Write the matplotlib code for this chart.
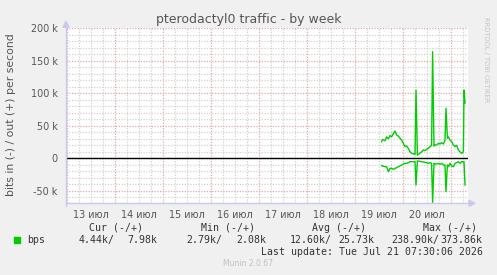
import matplotlib.pyplot as plt
import numpy as np

W, H = 497, 275

# hours since Jul 19 00:00
hours = [13.3, 13.8, 15.0, 15.8, 16.7, 17.5, 18.3, 19.2, 20.0, 20.8,
         21.7, 22.5, 23.3, 24.2, 25.0, 25.8, 26.7, 27.5, 28.3, 29.2,
         30.0, 30.5, 31.2, 31.7, 32.5, 33.3, 34.2, 35.0, 35.8, 36.7,
         37.5, 38.3, 38.8, 39.5, 40.0, 40.8, 41.7, 42.5, 43.3, 44.2,
         45.0, 45.5, 46.2, 46.7, 47.5, 48.3, 49.2, 50.0, 50.8, 51.7,
         52.5, 53.3, 54.2, 54.5, 55.0]
out_k = [25.6, 29, 27, 33, 30, 35, 33, 38, 42, 36,
         34, 31, 28, 23, 18, 19, 15, 10, 8, 6.7,
         6, 105, 5, 6, 8, 10, 12.8, 11.8, 13.8, 15.4,
         18, 20, 164, 18.9, 20.5, 20.5, 23, 22, 24, 22,
         28, 77, 31, 33, 28, 26, 20.5, 18, 20, 12.8,
         10, 7.7, 10, 105, 85]
in_k = [-11.3, -11.8, -12.9, -12.9, -20.6, -15.4, -15.4, -17, -15.4, -14.4,
        -12.9, -11.8, -10.3, -8.7, -7.7, -7.7, -6.7, -5.2, -5.2, -5.2,
        -5.2, -41, -4.2, -4.2, -4.7, -5.2, -5.7, -6.2, -6.7, -7.7,
        -6.7, -7.7, -68, -7.7, -8.7, -8.7, -7.7, -9.2, -7.7, -10.3,
        -10.3, -51.3, -10.3, -12.9, -7.7, -11.8, -12.9, -7.7, -6.7, -5.2,
        -7.7, -5.2, -5.2, -5.2, -41]

day_labels = ['13 июл', '14 июл', '15 июл', '16 июл', '17 июл', '18 июл', '19 июл', '20 июл']
y_ticks = [-50, 0, 50, 100, 150, 200]
y_tick_labels = ['-50 k', '0', '50 k', '100 k', '150 k', '200 k']

header = ['Cur (-/+)', 'Min (-/+)', 'Avg (-/+)', 'Max (-/+)']
values = ['4.44k/', '7.98k', '2.79k/', '2.08k', '12.60k/', '25.73k', '238.90k/', '373.86k']

GREEN = '#00cc00'
TXT = '#555555'
BG = '#f0f0f0'
MINOR = '#d2d2d2'
MAJOR = '#e6a6a6'
AXC = '#c8c8f0'


def fx(x):
    return x / W


def fy(y):
    return 1 - y / H


fig = plt.figure(figsize=(W / 100, H / 100), dpi=100, facecolor=BG)
L, R, T, B = 66, 468, 28.3, 203.3
ax = fig.add_axes([fx(L), fy(B), (R - L) / W, (B - T) / H])
ax.set_facecolor('white')

# x in hours since Jul 13 00:00
ax.set_xlim(-0.5, 200.5)
ax.set_ylim(-69.2, 200)

for h in np.arange(0, 201, 6):
    col = MAJOR if h % 24 == 0 else MINOR
    ax.axvline(h, color=col, lw=0.9, ls=(0, (1, 1.2)), zorder=1)
for v in np.arange(-60, 201, 10):
    col = MAJOR if v % 50 == 0 else MINOR
    ax.axhline(v, color=col, lw=0.9, ls=(0, (1, 1.2)), zorder=1)

ax.axhline(0, color='black', lw=1.0, zorder=3)

xs = [h + 144 for h in hours]
ax.plot(xs, out_k, color=GREEN, lw=1.0, zorder=4)
ax.plot(xs, in_k, color=GREEN, lw=1.0, zorder=4)

for s in ax.spines.values():
    s.set_visible(False)

ax.set_xticks([12 + 24 * i for i in range(len(day_labels))], day_labels)
ax.set_yticks(y_ticks, y_tick_labels)
ax.tick_params(axis='both', length=0, labelsize=6.9, colors=TXT)
ax.tick_params(axis='x', pad=5)
ax.tick_params(axis='y', pad=6)

# axis lines with arrows
fig.add_artist(plt.Line2D([fx(L), fx(R + 2)], [fy(B), fy(B)], color=AXC, lw=1))
fig.add_artist(plt.Line2D([fx(L), fx(L)], [fy(B + 3), fy(T - 3)], color=AXC, lw=1))
fig.add_artist(plt.Polygon([[fx(R + 1), fy(B - 3)], [fx(R + 7), fy(B)], [fx(R + 1), fy(B + 3)]],
                           closed=True, color=AXC, transform=fig.transFigure))
fig.add_artist(plt.Polygon([[fx(L - 3), fy(T - 1)], [fx(L), fy(T - 7)], [fx(L + 3), fy(T - 1)]],
                           closed=True, color=AXC, transform=fig.transFigure))

fig.text(fx(248.5), fy(19.5), 'pterodactyl0 traffic - by week', ha='center', va='center',
         fontsize=9, color=TXT)
fig.text(fx(11), fy(115), 'bits in (-) / out (+) per second', rotation=90,
         ha='center', va='center', fontsize=7.8, color=TXT)
fig.text(fx(486), fy(17), 'RRDTOOL / TOBI OETIKER', rotation=270, ha='center', va='top',
         fontsize=4.8, color='#c4c4c4')

mono = dict(family='DejaVu Sans Mono', fontsize=7.1, color='#333333', va='center')
for lab, x in zip(header, [89.3, 201, 312, 422.7]):
    fig.text(fx(x), fy(227.7), lab, ha='left', **mono)

fig.add_artist(plt.Rectangle((fx(14), fy(243)), 6 / W, 6 / H, color=GREEN,
                             transform=fig.transFigure))
fig.text(fx(26.7), fy(240), 'bps', ha='left', **mono)
pos = [(78.3, 'left'), (157.7, 'right'), (186, 'left'), (266.7, 'right'),
       (289.3, 'left'), (374, 'right'), (391, 'left'), (482.7, 'right')]
for v, (x, ha) in zip(values, pos):
    fig.text(fx(x), fy(240), v, ha=ha, **mono)

fig.text(fx(482.7), fy(251.7), 'Last update: Tue Jul 21 07:30:06 2026', ha='right', **mono)
fig.text(fx(247.7), fy(263.3), 'Munin 2.0.67', ha='center', va='center', fontsize=5.5,
         color='#c0c0c0')

fig.savefig('out.png', dpi=100, facecolor=BG)
